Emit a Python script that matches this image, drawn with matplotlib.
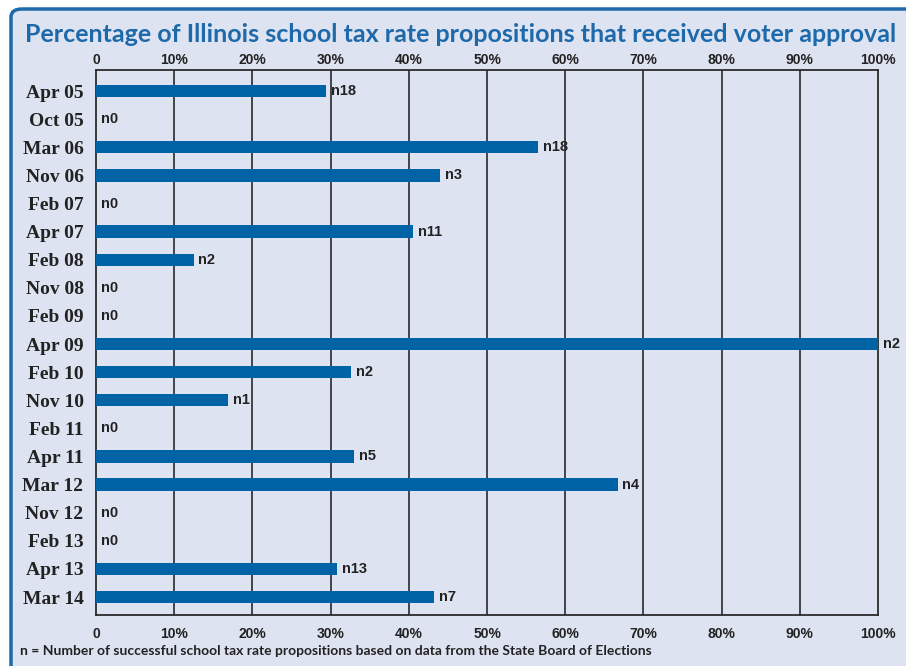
import matplotlib.pyplot as plt
from matplotlib.patches import FancyBboxPatch

dates = ["Apr 05", "Oct 05", "Mar 06", "Nov 06", "Feb 07", "Apr 07", "Feb 08",
         "Nov 08", "Feb 09", "Apr 09", "Feb 10", "Nov 10", "Feb 11", "Apr 11",
         "Mar 12", "Nov 12", "Feb 13", "Apr 13", "Mar 14"]
approved_pct = [29.4, 0, 56.5, 44.0, 0, 40.6, 12.5, 0, 0, 100, 32.6, 16.9,
                0, 33.0, 66.7, 0, 0, 30.8, 43.2]
n_labels = ["n18", "n0", "n18", "n3", "n0", "n11", "n2", "n0", "n0", "n2",
            "n2", "n1", "n0", "n5", "n4", "n0", "n0", "n13", "n7"]
tick_values = [0, 10, 20, 30, 40, 50, 60, 70, 80, 90, 100]
tick_labels = ["0"] + [f"{v}%" for v in tick_values[1:]]

bg = "#dde3f0"
bar_blue = "#0063a6"
title_blue = "#1d69aa"
ink = "#222222"

W, H = 906, 666
fig = plt.figure(figsize=(W / 100, H / 100), dpi=100)
fig.patch.set_facecolor("white")

# rounded blue frame that runs off the right and bottom edges
frame = FancyBboxPatch((11 / W, -0.05), 1.2, 1 + 0.05 - 9 / H,
                       boxstyle="round,pad=0,rounding_size=0.012",
                       transform=fig.transFigure, facecolor=bg,
                       edgecolor=title_blue, linewidth=2.5, zorder=-10)
fig.patches.append(frame)

fig.text(461 / W, 1 - 34 / H,
         "Percentage of Illinois school tax rate propositions that received voter approval",
         ha="center", va="center", fontsize=18, fontweight="bold",
         color=title_blue, family="Lato")

ax = fig.add_axes([96 / W, 1 - 615 / H, (878 - 96) / W, (615 - 70) / H])
ax.set_facecolor(bg)

y = list(range(len(dates)))
ax.barh(y, approved_pct, height=0.44, color=bar_blue, zorder=3)

for yi, v, lab in zip(y, approved_pct, n_labels):
    ax.text(v + 0.6 if v > 0 else 0.6, yi, lab, ha="left", va="center",
            fontsize=10.5, fontweight="bold", color=ink,
            family="Liberation Sans", zorder=4)

for t in tick_values[1:-1]:
    ax.axvline(t, color="#2a2a2a", linewidth=1.2, zorder=1)

ax.set_xlim(0, 100)
ax.set_ylim(18.64, -0.75)
ax.set_yticks(y)
ax.set_yticklabels(dates, fontsize=14, fontweight="bold",
                   family="Liberation Serif", color=ink)
ax.set_xticks(tick_values)
ax.set_xticklabels(tick_labels, fontsize=10, fontweight="bold",
                   family="Liberation Sans", color=ink)
ax.tick_params(axis="y", length=0, pad=9)
ax.tick_params(axis="x", length=0, pad=9)

top = ax.secondary_xaxis("top")
top.set_xticks(tick_values)
top.set_xticklabels(tick_labels, fontsize=10, fontweight="bold",
                    family="Liberation Sans", color=ink)
top.tick_params(length=0, pad=2)
top.spines["top"].set_visible(False)

for s in ax.spines.values():
    s.set_color("#2a2a2a")
    s.set_linewidth(1.3)

fig.text(20 / W, 1 - 651 / H,
         "n = Number of successful school tax rate propositions based on data from the State Board of Elections",
         ha="left", va="center", fontsize=10, fontweight="bold",
         color=ink, family="Lato")

fig.savefig("out.png", dpi=100, facecolor=fig.get_facecolor())
